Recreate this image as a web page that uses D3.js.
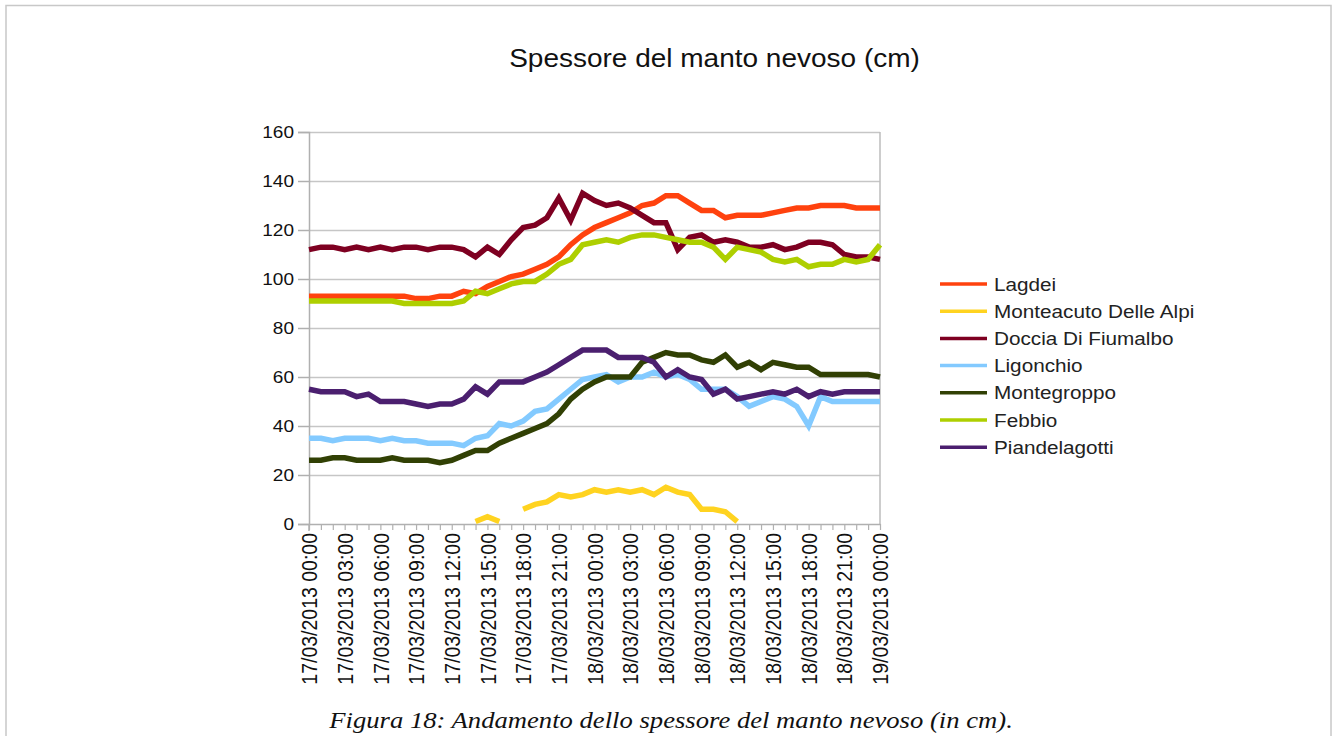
<!DOCTYPE html>
<html><head><meta charset="utf-8">
<script src="https://cdn.jsdelivr.net/npm/d3@7"></script>
<style>html,body{margin:0;padding:0;background:#fff;overflow:hidden}</style>
</head><body>
<svg id="c" width="1337" height="736"></svg>
<script>
const title = "Spessore del manto nevoso (cm)";
const caption = "Figura 18: Andamento dello spessore del manto nevoso (in cm).";
const hours = [0,1,2,3,4,5,6,7,8,9,10,11,12,13,14,15,16,17,18,19,20,21,22,23,24,25,26,27,28,29,30,31,32,33,34,35,36,37,38,39,40,41,42,43,44,45,46,47,48];
const tickLabels = ["17/03/2013 00:00","17/03/2013 03:00","17/03/2013 06:00","17/03/2013 09:00","17/03/2013 12:00","17/03/2013 15:00","17/03/2013 18:00","17/03/2013 21:00","18/03/2013 00:00","18/03/2013 03:00","18/03/2013 06:00","18/03/2013 09:00","18/03/2013 12:00","18/03/2013 15:00","18/03/2013 18:00","18/03/2013 21:00","19/03/2013 00:00"];
const yTicks = [0,20,40,60,80,100,120,140,160];
const seriesNames = ["Lagdei","Monteacuto Delle Alpi","Doccia Di Fiumalbo","Ligonchio","Montegroppo","Febbio","Piandelagotti"];
const seriesColors = ["#ff420e","#ffd320","#7e0021","#83caff","#314004","#aecf00","#4b1f6f"];

const lagdei = [93,93,93,93,93,93,93,93,93,92,92,93,93,95,94,97,99,101,102,104,106,109,114,118,121,123,125,127,130,131,134,134,131,128,128,125,126,126,126,127,128,129,129,130,130,130,129,129,129];
const monteacuto = [null,null,null,null,null,null,null,null,null,null,null,null,null,null,1,3,1,null,6,8,9,12,11,12,14,13,14,13,14,12,15,13,12,6,6,5,1,null,null,null,null,null,null,null,null,null,null,null,null];
const doccia = [112,113,113,112,113,112,113,112,113,113,112,113,113,112,109,113,110,116,121,122,125,133,124,135,132,130,131,129,126,123,123,112,117,118,115,116,115,113,113,114,112,113,115,115,114,110,109,109,108];
const ligonchio = [35,35,34,35,35,35,34,35,34,34,33,33,33,32,35,36,41,40,42,46,47,51,55,59,60,61,58,60,60,62,60,61,59,55,55,55,52,48,50,52,51,48,40,52,50,50,50,50,50];
const montegroppo = [26,26,27,27,26,26,26,27,26,26,26,25,26,28,30,30,33,35,37,39,41,45,51,55,58,60,60,60,66,68,70,69,69,67,66,69,64,66,63,66,65,64,64,61,61,61,61,61,60];
const febbio = [91,91,91,91,91,91,91,91,90,90,90,90,90,91,95,94,96,98,99,99,102,106,108,114,115,116,115,117,118,118,117,116,115,115,113,108,113,112,111,108,107,108,105,106,106,108,107,108,114];
const piandelagotti = [55,54,54,54,52,53,50,50,50,49,48,49,49,51,56,53,58,58,58,60,62,65,68,71,71,71,68,68,68,66,60,63,60,59,53,55,51,52,53,54,53,55,52,54,53,54,54,54,54];

const seriesValues = [lagdei, monteacuto, doccia, ligonchio, montegroppo, febbio, piandelagotti];

const SX = 1.12;
const sans = "'Liberation Sans', Arial, sans-serif";
const svg = d3.select("#c");

svg.append("rect").attr("x",6).attr("y",5.5).attr("width",1325).attr("height",780)
  .attr("fill","none").attr("stroke","#c8c8c8").attr("stroke-width",1.5);

const x = d3.scaleLinear().domain([0,48]).range([309,880]);
const y = d3.scaleLinear().domain([0,160]).range([524,132]);

// gridlines
const grid = svg.append("g").attr("transform","translate(309,0)")
  .call(d3.axisLeft(y).tickValues(yTicks.slice(1)).tickSize(-(880-309)).tickFormat(""));
grid.select(".domain").remove();
grid.selectAll("line").attr("stroke","#c6c6c6").attr("stroke-width",1.5);
// right frame
svg.append("line").attr("x1",880).attr("x2",880).attr("y1",y(160)).attr("y2",y(0))
  .attr("stroke","#bdbdbd").attr("stroke-width",1.5);

// y axis
const ya = svg.append("g").attr("transform","translate(309,0)")
  .call(d3.axisLeft(y).tickValues(yTicks).tickSize(11).tickPadding(3));
ya.select(".domain").attr("stroke","#b0b0b0").attr("stroke-width",1.5);
ya.selectAll("line").attr("stroke","#b0b0b0").attr("stroke-width",1.5);
ya.selectAll("text").attr("x",0).attr("transform",`translate(-15,0) scale(${SX},1)`)
  .attr("font-family",sans).attr("font-size",17).attr("fill","#111");

// x axis
const xa = svg.append("g").attr("transform",`translate(0,${y(0)})`)
  .call(d3.axisBottom(x).tickValues(hours).tickSize(6).tickSizeOuter(0)
    .tickFormat(d => d % 3 === 0 ? tickLabels[d/3] : ""));
xa.select(".domain").attr("stroke","#b0b0b0").attr("stroke-width",1.5);
xa.selectAll("line").attr("stroke","#b0b0b0").attr("stroke-width",1.2);
xa.selectAll("text").attr("x",-9).attr("y",0).attr("dy","0.35em")
  .attr("text-anchor","end").attr("transform",`scale(${SX},1) rotate(-90)`)
  .attr("font-family",sans).attr("font-size",19.5).attr("fill","#111");
svg.append("line").attr("x1",x(0)).attr("x2",x(0)).attr("y1",y(0)).attr("y2",y(0)+7)
  .attr("stroke","#b0b0b0").attr("stroke-width",1.5);

// series
const line = d3.line().defined(d => d != null).x((d,i) => x(hours[i])).y(d => y(d));
svg.append("g").selectAll("path").data(seriesValues).join("path")
  .attr("d", d => line(d)).attr("fill","none")
  .attr("stroke",(d,i) => seriesColors[i]).attr("stroke-width",5.5)
  .attr("stroke-linejoin","miter").attr("stroke-miterlimit",3);

// legend
const lg = svg.append("g").selectAll("g").data(seriesNames).join("g")
  .attr("transform",(d,i) => `translate(0,${284 + i*27.2})`);
lg.append("line").attr("x1",940).attr("x2",987).attr("y1",0).attr("y2",0)
  .attr("stroke",(d,i) => seriesColors[i]).attr("stroke-width",3.5);
lg.append("text").attr("transform",`translate(994,0) scale(${SX},1)`).attr("dy","0.36em")
  .attr("font-family",sans).attr("font-size",18.5).attr("fill","#222").text(d => d);

// title
svg.append("text").attr("transform",`translate(714.5,67) scale(${SX},1)`).attr("text-anchor","middle")
  .attr("font-family",sans).attr("font-size",25).attr("fill","#111").text(title);

// caption
svg.append("text").attr("transform",`translate(671,728) scale(${SX},1)`).attr("text-anchor","middle")
  .attr("font-family","'Liberation Serif', 'Times New Roman', serif").attr("font-style","italic")
  .attr("font-size",23.8).attr("fill","#111").text(caption);
</script>
</body></html>
